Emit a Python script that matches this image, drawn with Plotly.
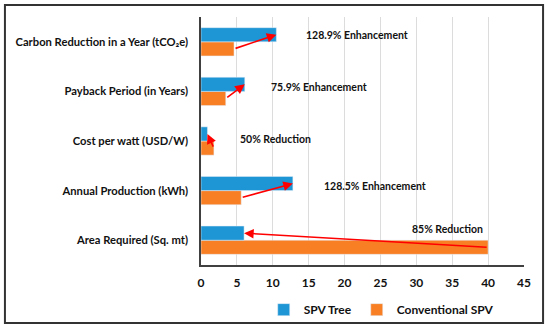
import plotly.graph_objects as go

categories = ["Area Required (Sq. mt)", "Annual Production (kWh)", "Cost per watt (USD/W)",
              "Payback Period (in Years)", "Carbon Reduction in a Year (tCO₂e)"]
spv_tree = [6.0, 12.8, 0.9, 6.1, 10.5]
conventional = [40.0, 5.6, 1.8, 3.45, 4.6]
notes = ["85% Reduction", "128.5% Enhancement", "50% Reduction", "75.9% Enhancement", "128.9% Enhancement"]
note_x = [34.3, 24.2, 10.4, 16.4, 21.7]
note_dy = [0.22, 0.1, 0.04, 0.08, 0.14]

BLUE = "#1E96D5"
ORANGE = "#F97F24"
FONT = "Lato"
bargap = 0.43

fig = go.Figure()
fig.add_trace(go.Bar(y=categories, x=conventional, orientation="h", name="Conventional SPV",
                     marker_color=ORANGE, legendrank=2))
fig.add_trace(go.Bar(y=categories, x=spv_tree, orientation="h", name="SPV Tree",
                     marker_color=BLUE, legendrank=1))

off = (1 - bargap) / 4
anns = []
for i in range(len(categories)):
    anns.append(dict(x=spv_tree[i], y=i + off, ax=conventional[i], ay=i - off,
                     xref="x", yref="y", axref="x", ayref="y", text="", showarrow=True,
                     arrowhead=2, arrowsize=1.2, arrowwidth=1.6, arrowcolor="#FF0000"))
    anns.append(dict(x=note_x[i], y=i + note_dy[i], xref="x", yref="y", text=notes[i],
                     showarrow=False, font=dict(family=FONT, size=10.5, color="#111111", weight="bold")))

fig.update_layout(
    width=550, height=334,
    margin=dict(l=201, r=26, t=17, b=69, autoexpand=False),
    paper_bgcolor="white", plot_bgcolor="white",
    barmode="group", bargap=bargap, bargroupgap=0,
    font=dict(family=FONT, size=12, color="#111111"),
    showlegend=True,
    legend=dict(orientation="h", x=0.558, y=-0.18, xanchor="center", yanchor="middle",
                font=dict(family=FONT, size=12, color="#111111", weight="bold"),
                itemwidth=30, traceorder="normal", bgcolor="rgba(0,0,0,0)"),
    annotations=anns,
    shapes=[dict(type="rect", xref="paper", yref="paper", x0=-0.607, x1=1.059, y0=-0.234, y1=1.048,
                 line=dict(color="#333333", width=2))],
)
fig.update_xaxes(range=[0, 45], dtick=5, showgrid=True, gridcolor="#DCDCDC", gridwidth=1,
                 showline=True, linecolor="#404040", linewidth=1.5, zeroline=False, automargin=False,
                 tickfont=dict(family=FONT, size=12, color="#111111", weight="bold"), ticks="",
                 ticklabelstandoff=6)
fig.update_yaxes(showline=True, linecolor="#404040", linewidth=1.5, showgrid=False, automargin=False,
                 tickfont=dict(family=FONT, size=11.2, color="#111111", weight="bold"), ticks="",
                 ticklabelstandoff=9)

fig.write_html("out.html", config={"displayModeBar": False},
               post_script="document.body.style.margin='0px';document.body.style.overflow='hidden';")
